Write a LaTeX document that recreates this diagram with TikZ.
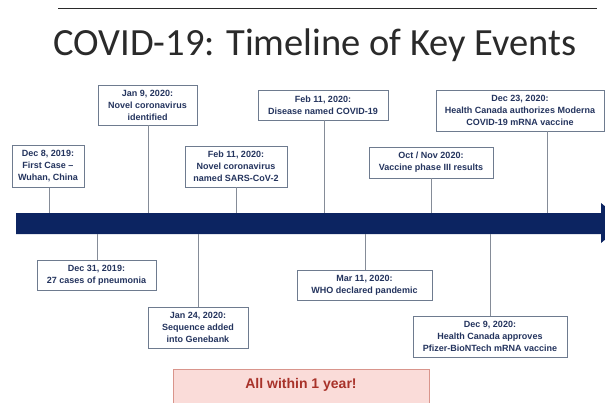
\documentclass[tikz,border=0pt]{standalone}
\usepackage{fontspec}
\setmainfont{Liberation Sans}
\newfontfamily\titlefont{Carlito}
\definecolor{barnavy}{HTML}{0C2461}
\definecolor{boxline}{HTML}{6E7B8F}
\definecolor{evtext}{HTML}{24345E}
\definecolor{connline}{HTML}{858C98}
\definecolor{titlecol}{HTML}{2A2A2A}
\definecolor{pinkfill}{HTML}{FADCD9}
\definecolor{pinkline}{HTML}{D9958C}
\definecolor{pinktext}{HTML}{A8322A}
\tikzset{
  evbox/.style={draw=boxline, fill=white, line width=0.8pt, text=evtext,
    font=\fontsize{9}{12}\selectfont\bfseries, align=center, inner sep=1pt},
  conn/.style={draw=connline, line width=0.8pt},
}
\begin{document}
\begin{tikzpicture}[x=1pt,y=-1pt]
\useasboundingbox (0,0) rectangle (605,402);
\clip (0,0) rectangle (605,402);
% top rule
\coordinate (rl) at (58,8);
\coordinate (rr) at (597,8);
\draw[line width=1pt, titlecol] (rl) -- (rr);
% title
\node[font=\titlefont\fontsize{38.5}{40}\selectfont, text=titlecol, anchor=base] (title) at (315,55) {COVID-19: Timeline of Key Events};
% bar
\fill[barnavy] (16,213) -- (601,213) -- (601,203) -- (625,223) -- (601,243) -- (601,234) -- (16,234) -- cycle;
% events above
\node[evbox, minimum width=72pt, minimum height=42pt] (e1) at (48,166.5) {Dec 8, 2019:\\First Case --\\Wuhan, China};
\node[evbox, minimum width=99pt, minimum height=40pt] (e2) at (147.5,105) {Jan 9, 2020:\\Novel coronavirus\\identified};
\node[evbox, minimum width=102pt, minimum height=41pt] (e3) at (236,166.5) {Feb 11, 2020:\\Novel coronavirus\\named SARS-CoV-2};
\node[evbox, minimum width=130pt, minimum height=30pt] (e4) at (323,105) {Feb 11, 2020:\\Disease named COVID-19};
\node[evbox, minimum width=124pt, minimum height=31pt] (e5) at (431,162.5) {Oct / Nov 2020:\\Vaccine phase III results};
\node[evbox, minimum width=168pt, minimum height=41pt] (e6) at (520,110.5) {Dec 23, 2020:\\Health Canada authorizes Moderna\\COVID-19 mRNA vaccine};
% events below
\node[evbox, minimum width=119pt, minimum height=30pt] (e7) at (96.5,275) {Dec 31, 2019:\\27 cases of pneumonia};
\node[evbox, minimum width=100pt, minimum height=41pt] (e8) at (198,327.5) {Jan 24, 2020:\\Sequence added\\into Genebank};
\node[evbox, minimum width=135pt, minimum height=30pt] (e9) at (364.5,285) {Mar 11, 2020:\\WHO declared pandemic};
\node[evbox, minimum width=154pt, minimum height=41pt] (e10) at (490,336.5) {Dec 9, 2020:\\Health Canada approves\\Pfizer-BioNTech mRNA vaccine};
% bar anchor coordinates
\coordinate (t1) at (49,213);
\coordinate (t2) at (148,213);
\coordinate (t3) at (236,213);
\coordinate (t4) at (324,213);
\coordinate (t5) at (431,213);
\coordinate (t6) at (547,213);
\coordinate (b7) at (97,234);
\coordinate (b8) at (198,234);
\coordinate (b9) at (365,234);
\coordinate (b10) at (490,234);
\foreach \n/\c in {e1/t1,e2/t2,e3/t3,e4/t4,e5/t5,e6/t6}{
  \draw[conn] (\c |- \n.south) -- (\c);
}
\foreach \n/\c in {e7/b7,e8/b8,e9/b9,e10/b10}{
  \draw[conn] (\c |- \n.north) -- (\c);
}
% summary box
\node[draw=pinkline, fill=pinkfill, line width=0.8pt, minimum width=256pt, minimum height=50pt, anchor=north west, inner sep=0] (sum) at (173,369) {};
\node[text=pinktext, font=\fontsize{14}{16}\selectfont\bfseries, anchor=base] (sumtext) at (301,388.5) {All within 1 year!};
\end{tikzpicture}
\end{document}
